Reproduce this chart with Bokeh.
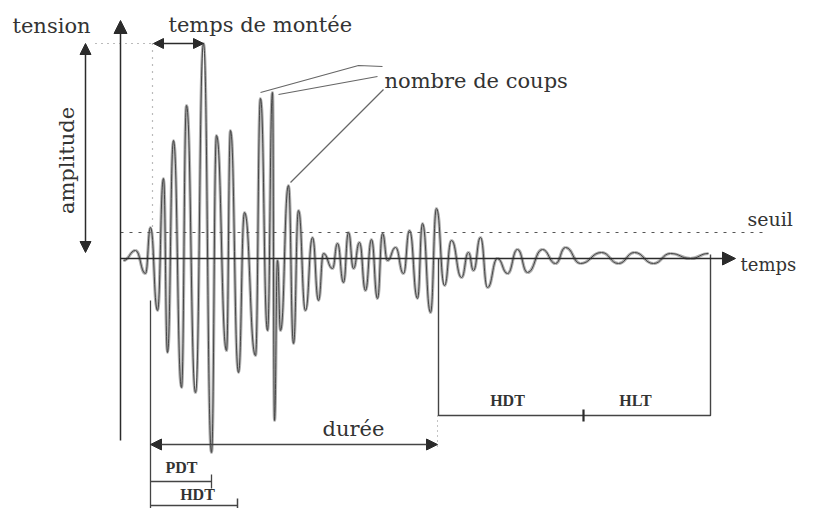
import numpy as np
from bokeh.plotting import figure
from bokeh.models import Range1d, Arrow, NormalHead, Label
from bokeh.embed import file_html
from bokeh.resources import INLINE

# ---- data (time in screen-like units, tension relative to baseline) ----
ext_t = [123, 135, 145, 150, 157, 163, 167, 173, 181, 186, 195, 203, 211, 216, 226, 230,
         238, 244, 255, 260, 267, 272, 274, 277, 280, 288, 293, 298, 305, 312, 318, 323,
         332, 337, 343, 348, 353, 359, 365, 371, 377, 382, 387, 395, 403, 409, 417, 422,
         430, 436, 444, 451, 461, 468, 473, 480, 487, 497, 507, 517, 527, 542, 555, 565,
         580, 601, 618, 634, 653, 670, 690, 708]
ext_v = [-2, 8, -15, 31, -52, 80, -94, 118, -129, 153, -134, 215, -194, 123, -92, 128,
         -114, 46, -97, 160, -72, 166, -162, -2, -72, 73, -85, 48, -52, 21, -42, 5,
         -10, 15, -24, 26, -10, 16, -32, 19, -40, 25, -2, 11, -15, 28, -40, 35,
         -54, 50, -27, 18, -19, 6, -12, 21, -29, 0, -15, 9, -14, 9, -5, 11,
         -5, 6, -5, 6, -5, 5, 0, 5]

threshold = 26
t_first = 150       # first threshold crossing
t_peak = 203        # peak time
amp = 215           # peak amplitude
t_last = 437        # last threshold crossing
t_pdt = 211
t_hdt = 237
t_hlt_mid = 583
t_hlt_end = 710

p = figure(width=798, height=508, output_backend="svg", toolbar_location=None,
           x_range=Range1d(0, 798), y_range=Range1d(-250, 258),
           min_border=0, outline_line_color=None)
p.axis.visible = False
p.grid.visible = False
p.background_fill_color = "white"

def Y(py):
    return 258 - py

ink = "#2b2b2b"

# ---- signal: smooth curve through extrema ----
t = np.array(ext_t, float)
v = np.array(ext_v, float)
x0, x1 = t[:-1], t[1:]
y0, y1 = v[:-1], v[1:]
dx = (x1 - x0) / 2
p.bezier(x0=x0, y0=y0, x1=x1, y1=y1, cx0=x0 + dx, cy0=y0, cx1=x1 - dx, cy1=y1,
         line_color="#b0b0b0", line_width=3.2)
p.bezier(x0=x0, y0=y0, x1=x1, y1=y1, cx0=x0 + dx, cy0=y0, cx1=x1 - dx, cy1=y1,
         line_color="#3a3a3a", line_width=0.9)

# ---- axes ----
head = lambda s: NormalHead(size=s, fill_color=ink, line_color=ink)
p.add_layout(Arrow(end=head(13), x_start=120, y_start=Y(440), x_end=120, y_end=Y(20),
                   line_color=ink, line_width=1.5))
p.add_layout(Arrow(end=head(13), x_start=120, y_start=0, x_end=735, y_end=0,
                   line_color=ink, line_width=1.5))

# threshold
p.line([120, 762], [threshold, threshold], line_color="#555555", line_dash="3 6", line_width=1)

# amplitude arrow
p.add_layout(Arrow(start=head(11), end=head(11), x_start=85, y_start=amp, x_end=85, y_end=Y(252),
                   line_color=ink, line_width=1.5))
# dotted guides at peak level / first crossing
p.line([95, t_first + 2], [amp, amp], line_color="#777777", line_dash="1 5", line_width=1.2)
p.line([t_first + 2, t_first + 2], [amp, 0], line_color="#777777", line_dash="1 6", line_width=1.2)

# rise time arrow
p.add_layout(Arrow(start=head(10), end=head(10), x_start=t_first + 3, y_start=amp, x_end=t_peak, y_end=amp,
                   line_color=ink, line_width=1.5))

# duration
p.line([t_first, t_first], [Y(300), Y(508)], line_color="#444444", line_width=1.3)
p.add_layout(Arrow(start=head(11), end=head(11), x_start=t_first, y_start=Y(444), x_end=t_last, y_end=Y(444),
                   line_color="#444444", line_width=1.3))
p.line([t_last, t_last], [Y(415), Y(448)], line_color="#888888", line_dash="1 4", line_width=1)

# PDT / HDT bars
p.line([t_first, t_pdt], [Y(481), Y(481)], line_color="#444444", line_width=1.3)
p.line([t_pdt, t_pdt], [Y(474), Y(488)], line_color="#444444", line_width=1.3)
p.line([t_first, t_hdt], [Y(505), Y(505)], line_color="#444444", line_width=1.3)
p.line([t_hdt, t_hdt], [Y(498), Y(508)], line_color="#444444", line_width=1.5)

# HDT / HLT box on the right
p.line([t_last + 1, t_last + 1, t_hlt_end, t_hlt_end], [0, Y(415), Y(415), 4],
       line_color="#444444", line_width=1.4)
p.line([t_hlt_mid, t_hlt_mid], [Y(409), Y(421)], line_color=ink, line_width=2.2)

# leader lines for "nombre de coups"
p.line([260, 358, 382], [Y(92), Y(65), Y(66)], line_color="#666666", line_width=1.2)
p.line([278, 377], [Y(94), Y(76)], line_color="#666666", line_width=1.2)
p.line([290, 383], [Y(182), Y(89)], line_color="#666666", line_width=1.2)

# ---- labels ----
serif = "DejaVu Serif"
txt = "#333333"
def lab(x, y, s, size="21px", align="left", font=serif, style="normal", angle=0):
    p.add_layout(Label(x=x, y=y, text=s, text_font=font, text_font_size=size,
                       text_align=align, text_baseline="middle", text_color=txt,
                       text_font_style=style, angle=angle))

lab(12, Y(25), "tension")
lab(168, Y(24), "temps de montée")
lab(384, Y(80), "nombre de coups")
lab(747, Y(218), "seuil", size="19px")
lab(740, Y(264), "temps", size="18px")
lab(353, Y(428), "durée", align="center")
lab(66, Y(160), "amplitude", align="center", angle=np.pi / 2)

bold = "Liberation Serif"
lab(181, Y(467), "PDT", size="16px", align="center", font=bold, style="bold")
lab(197, Y(494), "HDT", size="16px", align="center", font=bold, style="bold")
lab(507, Y(400), "HDT", size="16px", align="center", font=bold, style="bold")
lab(635, Y(400), "HLT", size="16px", align="center", font=bold, style="bold")

open("out.html", "w").write(file_html(p, INLINE))
